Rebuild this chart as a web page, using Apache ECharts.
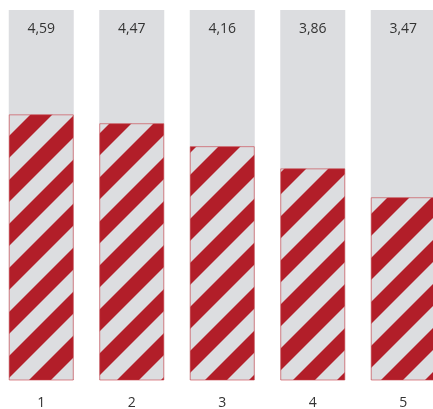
<!DOCTYPE html>
<html>
<head>
<meta charset="utf-8">
<script src="https://cdn.jsdelivr.net/npm/echarts@6/dist/echarts.min.js"></script>
<style>
html,body{margin:0;padding:0;background:#fff;}
#c{width:433px;height:409px;}
</style>
</head>
<body>
<div id="c"></div>
<script>
const categories = ['1', '2', '3', '4', '5'];
const values = [4.59, 4.47, 4.16, 3.86, 3.47];
const scaleMin = 1;
const scaleMax = 6;

const RED = '#b21e29';
const GRAY = '#dcdde0';

// diagonal stripe pattern tile
function makePattern() {
  const S = 44;
  const cv = document.createElement('canvas');
  cv.width = S; cv.height = S;
  const ctx = cv.getContext('2d');
  ctx.fillStyle = RED;
  ctx.fillRect(0, 0, S, S);
  ctx.strokeStyle = GRAY;
  ctx.lineWidth = (S / 2) / Math.SQRT2;
  ctx.lineCap = 'butt';
  for (let k = -3; k <= 4; k++) {
    const c = k * S + 2;
    ctx.beginPath();
    ctx.moveTo(c + 2 * S, -2 * S);
    ctx.lineTo(c - 2 * S, 2 * S);
    ctx.stroke();
  }
  return cv;
}

const chart = echarts.init(document.getElementById('c'), null, {renderer: 'canvas'});
const fmt = v => v.toFixed(2).replace('.', ',');

chart.setOption({
  animation: false,
  backgroundColor: '#ffffff',
  grid: {left: -4, width: 452.5, top: 10, bottom: 29, containLabel: false, outerBoundsMode: 'none'},
  xAxis: {
    type: 'category',
    data: categories,
    axisLine: {show: false},
    axisTick: {show: false},
    axisLabel: {margin: 16, fontSize: 14, color: '#333', fontFamily: 'Open Sans'}
  },
  yAxis: {
    type: 'value',
    min: scaleMin,
    max: scaleMax,
    show: false,
    splitLine: {show: false}
  },
  series: [
    {
      type: 'bar',
      barWidth: 65,
      data: values.map(() => scaleMax),
      itemStyle: {color: GRAY},
      silent: true,
      label: {
        show: true,
        position: 'insideTop',
        distance: 12,
        fontSize: 14,
        color: '#333',
        fontFamily: 'Open Sans',
        formatter: p => fmt(values[p.dataIndex])
      },
      z: 1
    },
    {
      type: 'bar',
      barWidth: 65,
      barGap: '-100%',
      data: values,
      itemStyle: {
        color: {image: makePattern(), repeat: 'repeat'},
        borderColor: 'rgba(200,60,70,0.6)',
        borderWidth: 1
      },
      z: 2
    }
  ]
});
</script>
</body>
</html>
